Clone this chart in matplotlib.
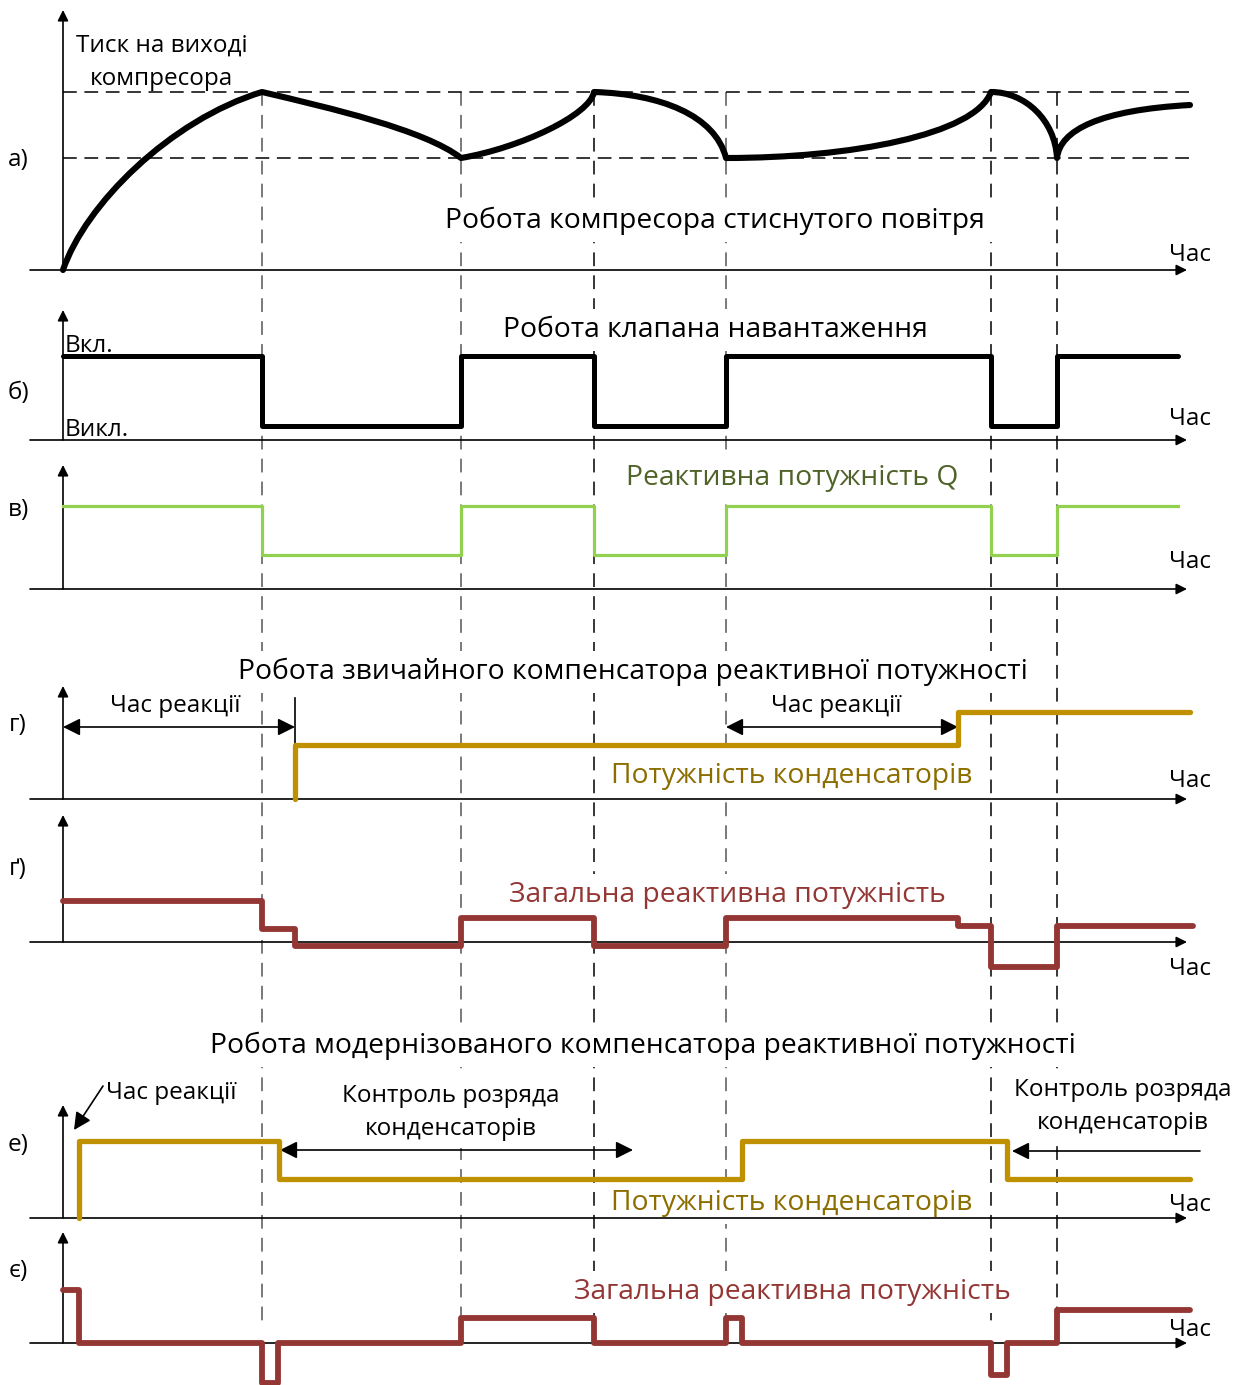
import matplotlib
matplotlib.use("Agg")
import matplotlib.pyplot as plt
from matplotlib.path import Path
from matplotlib.patches import PathPatch

# time axis positions of the switching events (shared by all panels)
events = [262, 461, 594, 726, 991, 1057]
events_dark = [False, False, True, False, True, True]

# a) compressor outlet pressure: knots of the curve and the two bezier
# handles of every stretch between them
p_lo, p_hi = 158, 92
press_knots = [(63, 270), (262, 92), (461, 158), (594, 92), (726, 158),
               (991, 92), (1057, 158), (1190, 105)]
press_handles = [((85, 205), (170, 120)),
                 ((330, 108), (425, 130)),
                 ((520, 148), (590, 115)),
                 ((660, 94), (715, 115)),
                 ((850, 158), (975, 135)),
                 ((1025, 92), (1055, 120)),
                 ((1060, 130), (1100, 110))]

# b) unloading valve state
valve_t = [63, 262, 461, 594, 726, 991, 1057, 1178]
valve_v = [356, 426, 356, 426, 356, 426, 356, 356]

# c) reactive power Q
q_t = [63, 262, 461, 594, 726, 991, 1057, 1178]
q_v = [506, 555, 506, 555, 506, 555, 506, 506]

# d) conventional compensator: capacitor power and total reactive power
cap1_t = [295, 295, 958, 1190]
cap1_v = [799, 745, 712, 712]
tot1_t = [63, 262, 295, 461, 594, 726, 958, 991, 1057, 1193]
tot1_v = [901, 929, 946, 918, 946, 918, 926, 967, 926, 926]

# e) upgraded compensator
cap2_t = [79, 79, 279, 742, 1007, 1190]
cap2_v = [1218, 1141, 1179, 1141, 1179, 1179]
tot2_t = [63, 79, 262, 278, 461, 594, 726, 742, 991, 1007, 1057, 1190]
tot2_v = [1290, 1343, 1383, 1343, 1318, 1343, 1318, 1343, 1375, 1343, 1310, 1310]

# panel frames: (label, label y, baseline, top of value axis, "Час" y)
panels = [("а)", 157, 270, 10, 252),
          ("б)", 390, 440, 310, 416),
          ("в)", 507, 589, 465, 559),
          ("г)", 722, 799, 686, 778),
          ("ґ)", 866, 942, 815, 966),
          ("е)", 1142, 1218, 1105, 1202),
          ("є)", 1268, 1343, 1232, 1327)]

GREEN = "#92D050"
GOLD = "#BF9000"
RED = "#943634"
FS = 17.5
FS_BIG = 20.3

plt.rcParams["font.family"] = ["Open Sans", "DejaVu Sans"]

fig = plt.figure(figsize=(12.41, 13.85), dpi=100)
ax = fig.add_axes([0, 0, 1, 1])
ax.set_xlim(0, 1241)
ax.set_ylim(1385, 0)
ax.axis("off")

white = dict(facecolor="white", edgecolor="none", pad=5)


def arrow(x0, y0, x1, y1, style="-|>", lw=1.2, ms=16):
    ax.annotate("", xy=(x1, y1), xytext=(x0, y0),
                arrowprops=dict(arrowstyle=style, lw=lw, color="black",
                                mutation_scale=ms, shrinkA=0, shrinkB=0),
                zorder=3)


def label(x, y, s, size=FS, color="black", ha="center", box=True):
    # Open Sans sits a little high with va="center", nudge it down
    ax.text(x, y + 3, s, fontsize=size, color=color, ha=ha, va="center",
            bbox=white if box else None, zorder=2)


# guide lines
for x, dark in zip(events, events_dark):
    ax.plot([x, x], [p_hi, 1325], color="black" if dark else "#555555",
            lw=1.1, ls=(0, (9, 6)), zorder=1)
for y in (p_hi, p_lo):
    ax.plot([63, 1190], [y, y], color="black", lw=1.1, ls=(0, (9, 5)), zorder=1)

# axes of every panel
for lab, ly, base, top, cy in panels:
    arrow(30, base, 1187, base)
    arrow(63, base, 63, top)
    label(18, ly, lab, box=False)
    label(1190, cy, "Час", box=False)

# pressure curve
verts = [press_knots[0]]
codes = [Path.MOVETO]
for (c1, c2), end in zip(press_handles, press_knots[1:]):
    verts += [c1, c2, end]
    codes += [Path.CURVE4] * 3
ax.add_patch(PathPatch(Path(verts, codes), fill=False, color="black", lw=4.4,
                       capstyle="round", joinstyle="round", zorder=5))

# step signals
step = dict(drawstyle="steps-post", solid_capstyle="round",
            solid_joinstyle="round", zorder=5)
ax.plot(valve_t, valve_v, color="black", lw=3.6, drawstyle="steps-post",
        solid_capstyle="round", zorder=5)
ax.plot(q_t, q_v, color=GREEN, lw=2.3, drawstyle="steps-post", zorder=5)
ax.plot(cap1_t, cap1_v, color=GOLD, lw=3.8, **step)
ax.plot(tot1_t, tot1_v, color=RED, lw=4.2, **step)
ax.plot(cap2_t, cap2_v, color=GOLD, lw=3.8, **step)
ax.plot(tot2_t, tot2_v, color=RED, lw=4.2, **step)

# texts
label(162, 43, "Тиск на виході", box=False)
label(162, 76, "компресора", box=False)
label(715, 218, "Робота компресора стиснутого повітря", FS_BIG)
label(715, 327, "Робота клапана навантаження", FS_BIG)
label(65, 343, "Вкл.", ha="left", box=False)
label(65, 427, "Викл.", ha="left", box=False)
label(792, 475, "Реактивна потужність Q", FS_BIG, "#4F6228")
label(633, 669, "Робота звичайного компенсатора реактивної потужності", FS_BIG)

# reaction time of the conventional compensator
ax.plot([295, 295], [698, 745], color="black", lw=1.2, zorder=3)
arrow(295, 727, 63, 727, style="<|-|>", ms=26)
label(175, 703, "Час реакції", box=False)
arrow(958, 727, 726, 727, style="<|-|>", ms=26)
label(836, 703, "Час реакції")
label(792, 773, "Потужність конденсаторів", FS_BIG, "#8C6D00")
label(727, 892, "Загальна реактивна потужність", FS_BIG, RED)

label(643, 1043, "Робота модернізованого компенсатора реактивної потужності",
      FS_BIG)

# upgraded compensator annotations
arrow(103, 1086, 74, 1130, ms=26)
label(106, 1090, "Час реакції", ha="left", box=False)
arrow(633, 1150, 280, 1150, style="<|-|>", ms=26)
label(451, 1093, "Контроль розряда")
label(451, 1126, "конденсаторів")
arrow(1200, 1151, 1012, 1151, ms=26)
label(1123, 1087, "Контроль розряда")
label(1123, 1120, "конденсаторів")
label(792, 1200, "Потужність конденсаторів", FS_BIG, "#8C6D00")
label(792, 1289, "Загальна реактивна потужність", FS_BIG, RED)

fig.savefig("out.png", dpi=100)
